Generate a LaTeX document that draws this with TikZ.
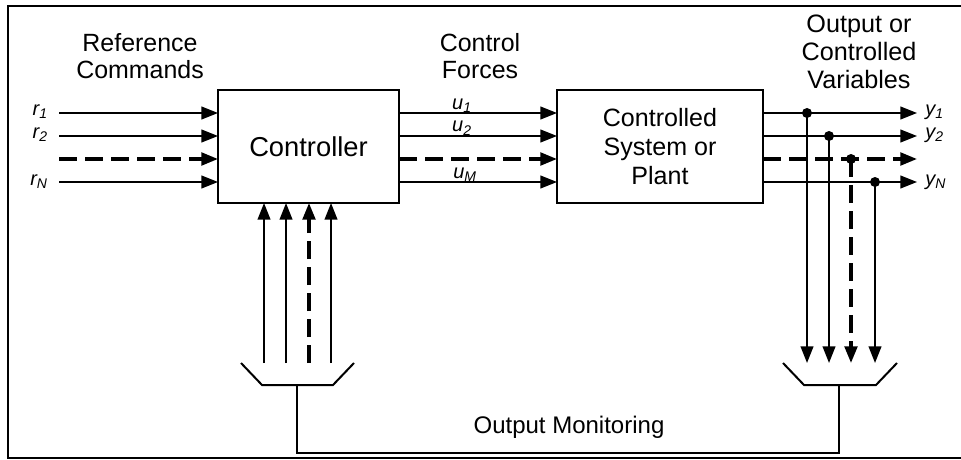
\documentclass[tikz,border=0pt]{standalone}
\usepackage{fontspec}
\setmainfont{Liberation Sans}
\usetikzlibrary{arrows.meta}
\begin{document}
\begin{tikzpicture}[x=0.75pt,y=-0.75pt,
  ln/.style={line width=1.5pt},
  tip/.style={-{Triangle[length=12.5pt,width=9.5pt]}},
  arr/.style={ln,tip},
  dsh/.style={line width=2.4pt,dash pattern=on 13.5pt off 6pt},
  darr/.style={dsh,tip},
  blk/.style={draw,line width=1.5pt,inner sep=0pt,outer sep=0pt,align=center},
  lbl/.style={align=center,inner sep=0pt,font=\fontsize{18.7}{20.5}\selectfont},
  sym/.style={inner sep=0pt,font=\fontsize{15}{17}\selectfont\itshape},
  dot/.style={circle,fill,inner sep=0pt,minimum size=7.5pt}
]
\useasboundingbox (0,0) rectangle (961,460);
% frame
\draw[line width=2pt] (961,6) -- (8,6) -- (8,458) -- (961,458);

% blocks
\node[blk,minimum width=135.75pt,minimum height=84.75pt,font=\fontsize{20.5}{22.5}\selectfont] (ctrl) at (308.5,146.5) {Controller};
\node[blk,minimum width=154.5pt,minimum height=84.75pt,font=\fontsize{18.8}{22}\selectfont] (plant) at (660,146.5) {Controlled\\System or\\Plant};

% headings
\node[lbl] (hRef) at (140,56) {Reference\\Commands};
\node[lbl] (hCtl) at (480,56) {Control\\Forces};
\node[lbl,font=\fontsize{18.9}{21}\selectfont] (hOut) at (859,52) {Output or\\Controlled\\Variables};
\node[lbl,font=\fontsize{18}{20}\selectfont] (hMon) at (569,427) {Output Monitoring};

% inputs
\foreach \i/\y in {1/113,2/136,3/159,4/182}{
  \coordinate (r\i) at (59,\y);
  \coordinate (uo\i) at (ctrl.east |- r\i);
  \coordinate (yo\i) at (plant.east |- r\i);
  \coordinate (ye\i) at (917,\y);
}
\draw[arr] (r1) -- (r1 -| ctrl.west);
\draw[arr] (r2) -- (r2 -| ctrl.west);
\draw[darr] (r3) -- (r3 -| ctrl.west);
\draw[arr] (r4) -- (r4 -| ctrl.west);
\node[sym,anchor=east] (lr1) at (48,112) {r\textsubscript{1}};
\node[sym,anchor=east] (lr2) at (48,135) {r\textsubscript{2}};
\node[sym,anchor=east] (lrN) at (48,182) {r\textsubscript{N}};

% control forces
\draw[arr] (uo1) -- (uo1 -| plant.west);
\draw[arr] (uo2) -- (uo2 -| plant.west);
\draw[darr] (uo3) -- (uo3 -| plant.west);
\draw[arr] (uo4) -- (uo4 -| plant.west);
\node[sym,anchor=base] (lu1) at (462,109) {u\textsubscript{1}};
\node[sym,anchor=base] (lu2) at (462,132) {u\textsubscript{2}};
\node[sym,anchor=base] (luM) at (465,178) {u\textsubscript{M}};

% outputs
\draw[arr] (yo1) -- (ye1);
\draw[arr] (yo2) -- (ye2);
\draw[darr] (yo3) -- (ye3);
\draw[arr] (yo4) -- (ye4);
\node[sym,anchor=west] (ly1) at (925,112) {y\textsubscript{1}};
\node[sym,anchor=west] (ly2) at (925,135) {y\textsubscript{2}};
\node[sym,anchor=west] (lyN) at (925,182) {y\textsubscript{N}};

% taps
\node[dot] (d1) at (807,113) {};
\node[dot] (d2) at (829,136) {};
\node[dot] (d3) at (851,159) {};
\node[dot] (d4) at (875,182) {};
\coordinate (t1) at (807,363);
\coordinate (t2) at (829,363);
\coordinate (t3) at (851,363);
\coordinate (t4) at (875,363);
\draw[arr] (d1.center) -- (t1);
\draw[arr] (d2.center) -- (t2);
\draw[darr] (d3.center) -- (t3);
\draw[arr] (d4.center) -- (t4);

% right trapezoid (sensor)
\coordinate (rt) at (839,385);
\draw[ln] (783,363) -- (804,385) -- (876,385) -- (897,363);

% left trapezoid
\coordinate (lt) at (297,385);
\draw[ln] (241,363) -- (262,385) -- (333,385) -- (354,363);

% feedback arrows into controller
\coordinate (f1) at (264,363);
\coordinate (f2) at (286,363);
\coordinate (f3) at (309,363);
\coordinate (f4) at (331,363);
\draw[arr] (f1) -- (f1 |- ctrl.south);
\draw[arr] (f2) -- (f2 |- ctrl.south);
\draw[darr] (f3) -- (f3 |- ctrl.south);
\draw[arr] (f4) -- (f4 |- ctrl.south);

% monitoring line
\draw[ln] (rt) -- (839,453) -- (297,453) -- (lt);
\end{tikzpicture}
\end{document}
